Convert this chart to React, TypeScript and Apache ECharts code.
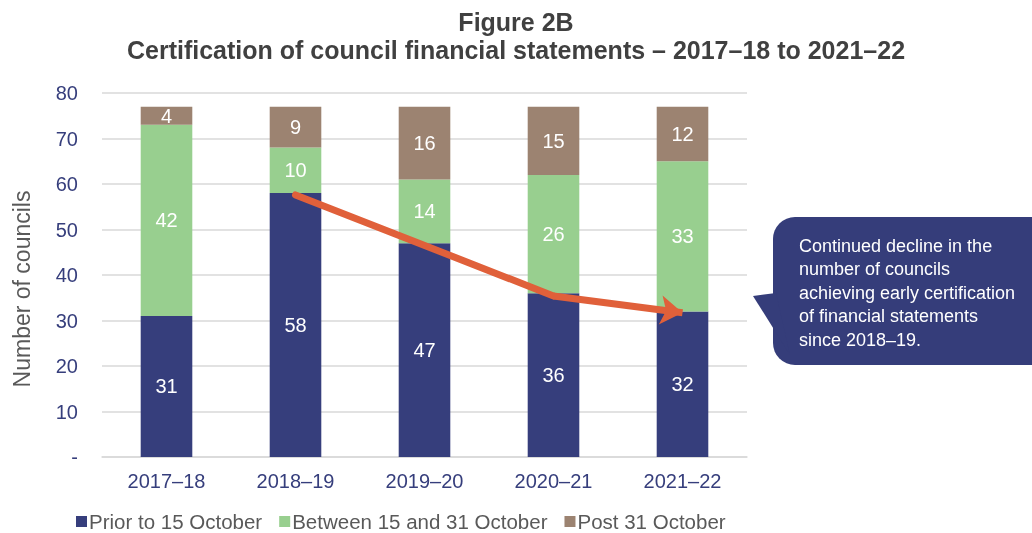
import React, { useEffect, useRef } from "react";
import * as echarts from "echarts";

const categories = ["2017–18", "2018–19", "2019–20", "2020–21", "2021–22"];
const prior15Oct = [31, 58, 47, 36, 32];
const between15and31 = [42, 10, 14, 26, 33];
const post31Oct = [4, 9, 16, 15, 12];
const yTicks = [0, 10, 20, 30, 40, 50, 60, 70, 80];
// arrow annotation path in data units: [category index, value]
const arrowSeg1 = [
  [1, 57.6],
  [2.97, 35.4],
];
const arrowSeg2 = [
  [2.97, 35.4],
  [3.93, 31.7],
];
const calloutLines = [
  "Continued decline in the",
  "number of councils",
  "achieving early certification",
  "of financial statements",
  "since 2018–19.",
];

const FONT = "'Liberation Sans', Arial, sans-serif";
const NAVY = "#363e7c";
const GREEN = "#98cf8f";
const BROWN = "#9c8371";
const ORANGE = "#e0603a";

export default function App() {
  const ref = useRef<HTMLDivElement>(null);
  useEffect(() => {
    document.body.style.margin = "0";
    const chart = echarts.init(ref.current!, null, { renderer: "svg" });
    const labelCfg = {
      show: true,
      position: "inside",
      color: "#ffffff",
      fontSize: 20,
      fontFamily: FONT,
    };
    chart.setOption({
      animation: false,
      textStyle: { fontFamily: FONT },
      title: {
        text: "Figure 2B\nCertification of council financial statements – 2017–18 to 2021–22",
        left: "center",
        top: 3,
        textStyle: {
          fontFamily: FONT,
          fontWeight: "bold",
          fontSize: 25,
          color: "#404040",
          lineHeight: 28,
        },
      },
      grid: { left: 102, right: 285, top: 93, bottom: 76 },
      legend: {
        left: 71,
        top: 506,
        padding: [5, 5, 0, 5],
        itemWidth: 11,
        itemHeight: 11,
        itemGap: 17,
        icon: "rect",
        textStyle: {
          fontFamily: FONT,
          fontSize: 20.5,
          lineHeight: 20,
          color: "#595959",
          padding: [0, 0, 0, -3],
        },
        data: ["Prior to 15 October", "Between 15 and 31 October", "Post 31 October"],
      },
      xAxis: {
        type: "category",
        data: categories,
        axisTick: { show: false },
        axisLine: { lineStyle: { color: "#d9d9d9", width: 1.5 } },
        axisLabel: { color: "#363e7c", fontSize: 20, fontFamily: FONT, margin: 14 },
      },
      yAxis: {
        type: "value",
        min: yTicks[0],
        max: yTicks[yTicks.length - 1],
        interval: 10,
        axisLabel: {
          color: "#363e7c",
          fontSize: 20,
          fontFamily: FONT,
          margin: 24,
          formatter: (v: number) => (v === 0 ? "-" : String(v)),
        },
        splitLine: { lineStyle: { color: "#d9d9d9", width: 1.5 } },
      },
      series: [
        {
          name: "Prior to 15 October",
          type: "bar",
          stack: "t",
          barWidth: "40%",
          data: prior15Oct,
          itemStyle: { color: NAVY },
          label: labelCfg,
        },
        {
          name: "Between 15 and 31 October",
          type: "bar",
          stack: "t",
          data: between15and31,
          itemStyle: { color: GREEN },
          label: labelCfg,
        },
        {
          name: "Post 31 October",
          type: "bar",
          stack: "t",
          data: post31Oct,
          itemStyle: { color: BROWN },
          label: labelCfg,
        },
        {
          type: "lines",
          coordinateSystem: "cartesian2d",
          silent: true,
          symbol: ["none", "none"],
          lineStyle: { color: ORANGE, width: 7, opacity: 1, cap: "round" },
          data: [{ coords: arrowSeg1 }],
          z: 10,
        },
        {
          type: "lines",
          coordinateSystem: "cartesian2d",
          silent: true,
          symbol: ["none", "arrow"],
          symbolSize: 22,
          lineStyle: { color: ORANGE, width: 7, opacity: 1 },
          data: [{ coords: arrowSeg2 }],
          z: 10,
        },
      ],
      graphic: [
        {
          type: "text",
          x: 22,
          y: 289,
          rotation: Math.PI / 2,
          style: {
            text: "Number of councils",
            fill: "#595959",
            font: `23px ${FONT}`,
            align: "center",
            verticalAlign: "middle",
          },
        },
        {
          type: "rect",
          shape: { x: 773, y: 217, width: 290, height: 148, r: 22 },
          style: { fill: "#353d7a" },
        },
        {
          type: "polygon",
          shape: { points: [[753, 296], [776, 293], [790, 355]] },
          style: { fill: "#353d7a" },
        },
        {
          type: "text",
          left: 799,
          top: 234,
          style: {
            text: calloutLines.join("\n"),
            fill: "#ffffff",
            font: `18px ${FONT}`,
            lineHeight: 23.5,
          },
        },
      ],
    });
    return () => chart.dispose();
  }, []);
  return <div ref={ref} style={{ position: "fixed", left: 0, top: 0, width: 1032, height: 533 }} />;
}
